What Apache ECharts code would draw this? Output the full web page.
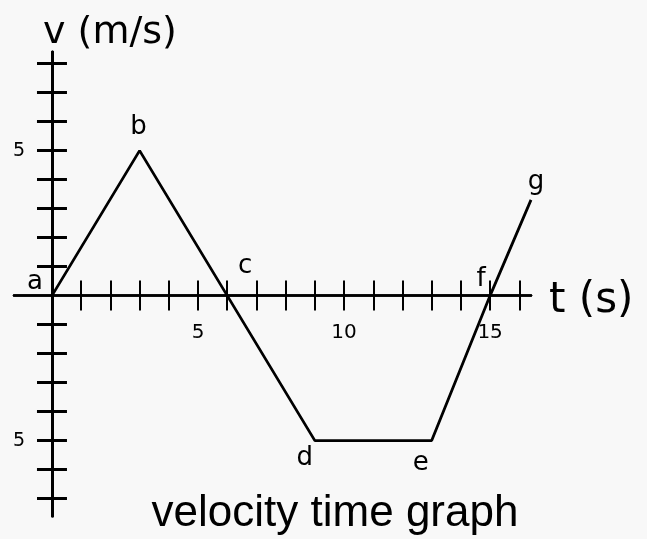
<!DOCTYPE html>
<html>
<head>
<meta charset="utf-8">
<script src="https://cdn.jsdelivr.net/npm/echarts@6/dist/echarts.min.js"></script>
<style>
  html, body { margin: 0; padding: 0; background: #f8f8f8; }
  #chart { width: 647px; height: 539px; }
</style>
</head>
<body>
<div id="chart"></div>
<script>
// points of the v-t graph
var pointNames = ['a', 'b', 'c', 'd', 'e', 'f', 'g'];
var times = [0, 3, 6, 9, 13, 15, 16.4];
var velocities = [0, 5, 0, -5, -5, 0, 3.3];

// tick marks and labels
var tTicks = [1, 2, 3, 4, 5, 6, 7, 8, 9, 10, 11, 12, 13, 14, 15, 16];
var tLabels = [5, 10, 15];
var vTicks = [-7, -6, -5, -4, -3, -2, -1, 1, 2, 3, 4, 5, 6, 7, 8];
var vLabels = [5, -5];

var handFont = 'DejaVu Sans';

// where each letter sits next to its point
var labelOffset = {
  a: [-17, -13], b: [-1, -23], c: [18, -29], d: [-10, 18],
  e: [-11, 23], f: [-9, -16], g: [5, -18]
};

var chart = echarts.init(document.getElementById('chart'), null, { renderer: 'canvas' });

// labels are laid out from the grid edge, so margins pull them back to the zero lines
function xAxisOf(pos, showLabels) {
  return {
    type: 'value',
    position: pos,
    min: -1.3,
    max: 16.4,
    splitLine: { show: false },
    axisLine: { onZero: true, onZeroAxisIndex: 0, lineStyle: { color: '#000', width: 2.5 } },
    axisTick: { show: true, length: 15, customValues: tTicks, lineStyle: { color: '#000', width: 2 } },
    axisLabel: {
      show: showLabels, customValues: tLabels, margin: -193,
      color: '#000', fontFamily: handFont, fontSize: 20
    }
  };
}

function yAxisOf(pos, showLabels) {
  return {
    type: 'value',
    position: pos,
    min: -7.6,
    max: 8.4,
    splitLine: { show: false },
    axisLine: { onZero: true, onZeroAxisIndex: 0, lineStyle: { color: '#000', width: 3 } },
    axisTick: { show: true, length: 15, customValues: vTicks, lineStyle: { color: '#000', width: 3 } },
    axisLabel: {
      show: showLabels, customValues: vLabels, margin: -11,
      color: '#000', fontFamily: handFont, fontSize: 19,
      formatter: function (v) { return Math.abs(v); }
    }
  };
}

var lineData = times.map(function (t, i) {
  return {
    name: pointNames[i],
    value: [t, velocities[i]],
    label: { offset: labelOffset[pointNames[i]] }
  };
});

var option = {
  backgroundColor: '#f8f8f8',
  animation: false,
  grid: { left: 14, right: 116, top: 52, bottom: 23, containLabel: false, outerBoundsMode: 'none' },
  xAxis: [xAxisOf('bottom', true), xAxisOf('top', false)],
  yAxis: [yAxisOf('left', true), yAxisOf('right', false)],
  graphic: [
    { type: 'text', x: 43, y: 33, style: { text: 'v (m/s)', font: '38px "DejaVu Sans"', fill: '#000', align: 'left', verticalAlign: 'middle' } },
    { type: 'text', x: 549, y: 301, style: { text: 't (s)', font: '42px "DejaVu Sans"', fill: '#000', align: 'left', verticalAlign: 'middle' } },
    { type: 'text', x: 335, y: 514, style: { text: 'velocity time graph', font: '44px "Liberation Sans"', fill: '#000', align: 'center', verticalAlign: 'middle' } }
  ],
  series: [
    {
      type: 'line',
      xAxisIndex: 0,
      yAxisIndex: 0,
      data: lineData,
      symbol: 'circle',
      symbolSize: 0,
      showSymbol: true,
      lineStyle: { color: '#000', width: 2.8 },
      itemStyle: { color: '#000' },
      label: {
        show: true,
        position: 'inside',
        formatter: '{b}',
        color: '#000',
        fontFamily: handFont,
        fontSize: 26
      },
      emphasis: { disabled: true }
    }
  ]
};

chart.setOption(option);
</script>
</body>
</html>
